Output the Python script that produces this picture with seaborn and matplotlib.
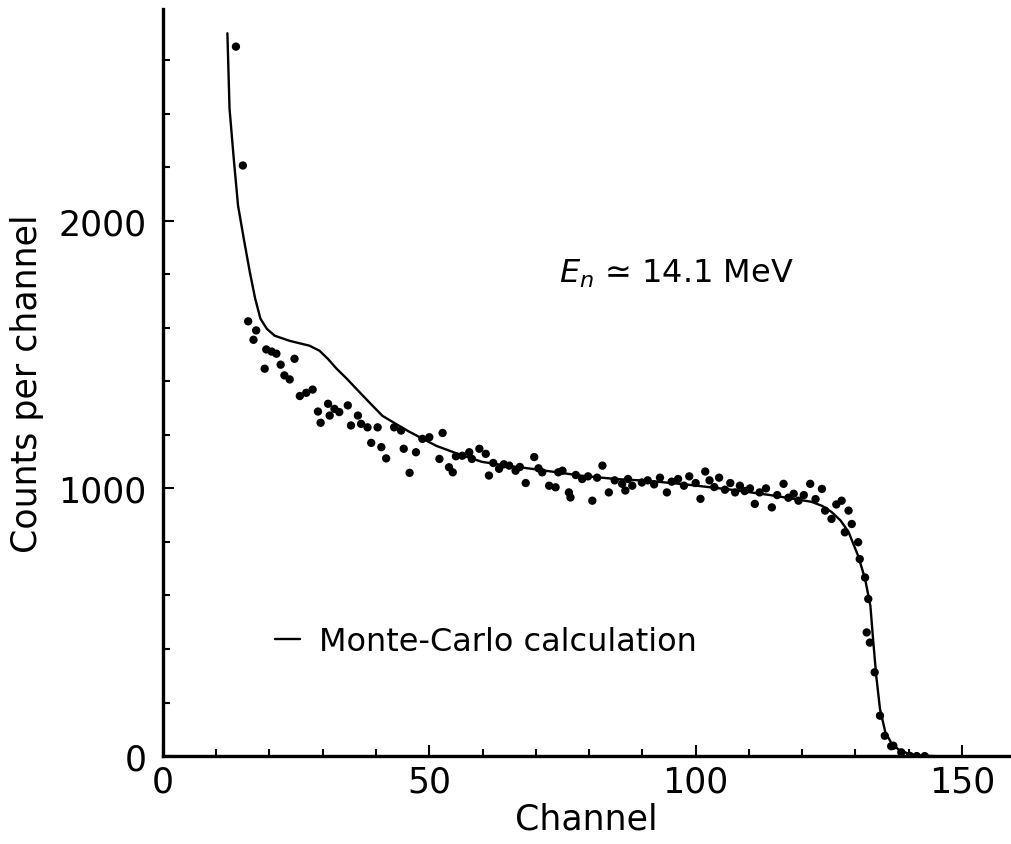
import numpy as np
import pandas as pd
import matplotlib
matplotlib.use('Agg')
import matplotlib.pyplot as plt
from matplotlib.ticker import MultipleLocator
import seaborn as sns

# measured spectrum (dots)
chan_meas = [13.7, 15.0, 16.0, 17.0, 17.5, 19.1, 19.4, 20.4, 21.3, 22.1,
             22.8, 23.8, 24.7, 25.7, 26.9, 28.1, 29.1, 29.6, 31.0, 31.3,
             32.2, 33.1, 34.7, 35.3, 36.6, 37.2, 38.4, 39.1, 40.3, 41.0,
             41.9, 43.4, 44.7, 45.2, 46.3, 47.5, 48.7, 50.0, 51.9, 52.5,
             53.7, 54.4, 55.0, 56.2, 57.5, 58.0, 59.4, 60.6, 61.2, 62.0,
             63.1, 64.0, 65.0, 66.2, 67.0, 68.1, 69.7, 70.5, 71.2, 72.5,
             73.7, 74.2, 75.0, 76.2, 76.5, 77.5, 78.7, 79.8, 80.6, 81.5,
             82.5, 83.7, 84.8, 86.2, 86.8, 87.3, 88.1, 89.9, 91.0, 92.2,
             93.3, 94.6, 95.5, 96.7, 97.8, 98.8, 100.0, 100.9, 101.8, 102.6,
             103.5, 104.4, 105.5, 106.5, 107.4, 108.3, 109.2, 110.2, 111.1, 112.0,
             113.2, 114.3, 115.3, 116.5, 117.4, 118.4, 119.3, 120.3, 121.5, 122.5,
             123.7, 124.3, 125.5, 126.4, 127.4, 128.0, 128.7, 129.3, 130.5, 130.8,
             131.8, 132.1, 132.4, 132.7, 133.6, 134.6, 135.5, 136.7, 137.1, 138.6,
             140.2, 141.5, 143.0]
counts_meas = [2650, 2206, 1624, 1555, 1590, 1447, 1519, 1511, 1503, 1462,
               1422, 1407, 1484, 1345, 1357, 1369, 1287, 1245, 1316, 1272,
               1297, 1285, 1310, 1235, 1272, 1241, 1228, 1170, 1228, 1154,
               1112, 1228, 1216, 1148, 1058, 1135, 1185, 1191, 1110, 1207,
               1079, 1060, 1120, 1122, 1135, 1110, 1148, 1129, 1048, 1095,
               1073, 1090, 1085, 1066, 1080, 1020, 1117, 1075, 1060, 1010,
               1004, 1060, 1066, 985, 966, 1050, 1035, 1045, 954, 1040,
               1085, 985, 1030, 1017, 992, 1035, 1010, 1022, 1030, 1015,
               1040, 985, 1025, 1035, 1010, 1045, 1020, 961, 1063, 1030,
               1005, 1040, 995, 1020, 985, 1010, 990, 1000, 942, 985,
               1000, 929, 975, 1017, 965, 980, 954, 975, 1017, 960,
               998, 917, 886, 940, 954, 836, 917, 867, 799, 736,
               667, 462, 587, 424, 313, 151, 76, 37, 39, 14,
               1, 0, 0]

# Monte-Carlo calculation (line)
chan_mc = [12.1, 12.5, 13.3, 14.1, 15.2, 16.3, 17.3, 18.3, 19.5, 21.0,
           23.8, 27.5, 29.4, 31.0, 32.6, 34.5, 36.3, 38.8, 41.2, 43.8,
           46.3, 51.3, 55.5, 59.9, 64.5, 69.3, 74.0, 78.7, 85.0, 91.2,
           98.0, 106.7, 114.0, 118.0, 121.7, 123.7, 125.5, 127.2, 128.7, 130.5,
           131.8, 132.8, 133.3, 133.9, 134.6, 135.6, 136.7, 138.0, 140.0, 142.0,
           145.0]
counts_mc = [2700, 2419, 2230, 2056, 1930, 1809, 1710, 1634, 1596, 1570,
             1551, 1533, 1514, 1483, 1447, 1410, 1372, 1320, 1271, 1240,
             1211, 1159, 1128, 1099, 1085, 1073, 1060, 1047, 1035, 1028,
             1015, 995, 975, 962, 950, 935, 912, 880, 837, 748,
             662, 561, 437, 299, 176, 90, 50, 26, 8, 2,
             0]

sns.set_style("ticks", {'axes.edgecolor': 'black', 'text.color': 'black',
                        'axes.labelcolor': 'black', 'xtick.color': 'black',
                        'ytick.color': 'black'})
plt.rcParams['font.family'] = ['DejaVu Sans']

df_meas = pd.DataFrame({'Channel': chan_meas, 'Counts': counts_meas})
df_mc = pd.DataFrame({'Channel': chan_mc, 'Counts': counts_mc})

fig = plt.figure(figsize=(10.12, 8.45), dpi=100)
ax = fig.add_axes([0.161, 0.104, 0.837, 0.884])

sns.scatterplot(data=df_meas, x='Channel', y='Counts', ax=ax, color='black',
                s=36, edgecolor='none', legend=False)
sns.lineplot(data=df_mc, x='Channel', y='Counts', ax=ax, color='black',
             linewidth=1.7, sort=False, label='Monte-Carlo calculation')

ax.set_xlim(0, 159)
ax.set_ylim(0, 2790)
ax.xaxis.set_major_locator(MultipleLocator(50))
ax.xaxis.set_minor_locator(MultipleLocator(10))
ax.yaxis.set_major_locator(MultipleLocator(1000))
ax.yaxis.set_minor_locator(MultipleLocator(200))
ax.tick_params(which='both', direction='in', width=1.5, labelsize=25,
               colors='black')
ax.tick_params(which='major', length=8)
ax.tick_params(which='minor', length=5)
ax.tick_params(axis='y', pad=12)
ax.tick_params(axis='x', pad=6)

for side in ['top', 'right']:
    ax.spines[side].set_visible(False)
for side in ['left', 'bottom']:
    ax.spines[side].set_linewidth(2.4)
    ax.spines[side].set_color('black')

ax.set_xlabel("Channel", fontsize=25, labelpad=2, color='black')
ax.set_ylabel("Counts per channel", fontsize=25, labelpad=10, color='black')

ax.text(74.4, 1772, r'$E_n$ ≃ 14.1 MeV', fontsize=23, va='baseline',
        ha='left', color='black')

leg = ax.legend(loc='center left', bbox_to_anchor=(0.132, 0.153), frameon=False,
                handlelength=0.8, handletextpad=0.6, borderpad=0,
                borderaxespad=0, fontsize=23)
for t in leg.get_texts():
    t.set_color('black')

plt.savefig('out.png', dpi=100)
plt.close()
